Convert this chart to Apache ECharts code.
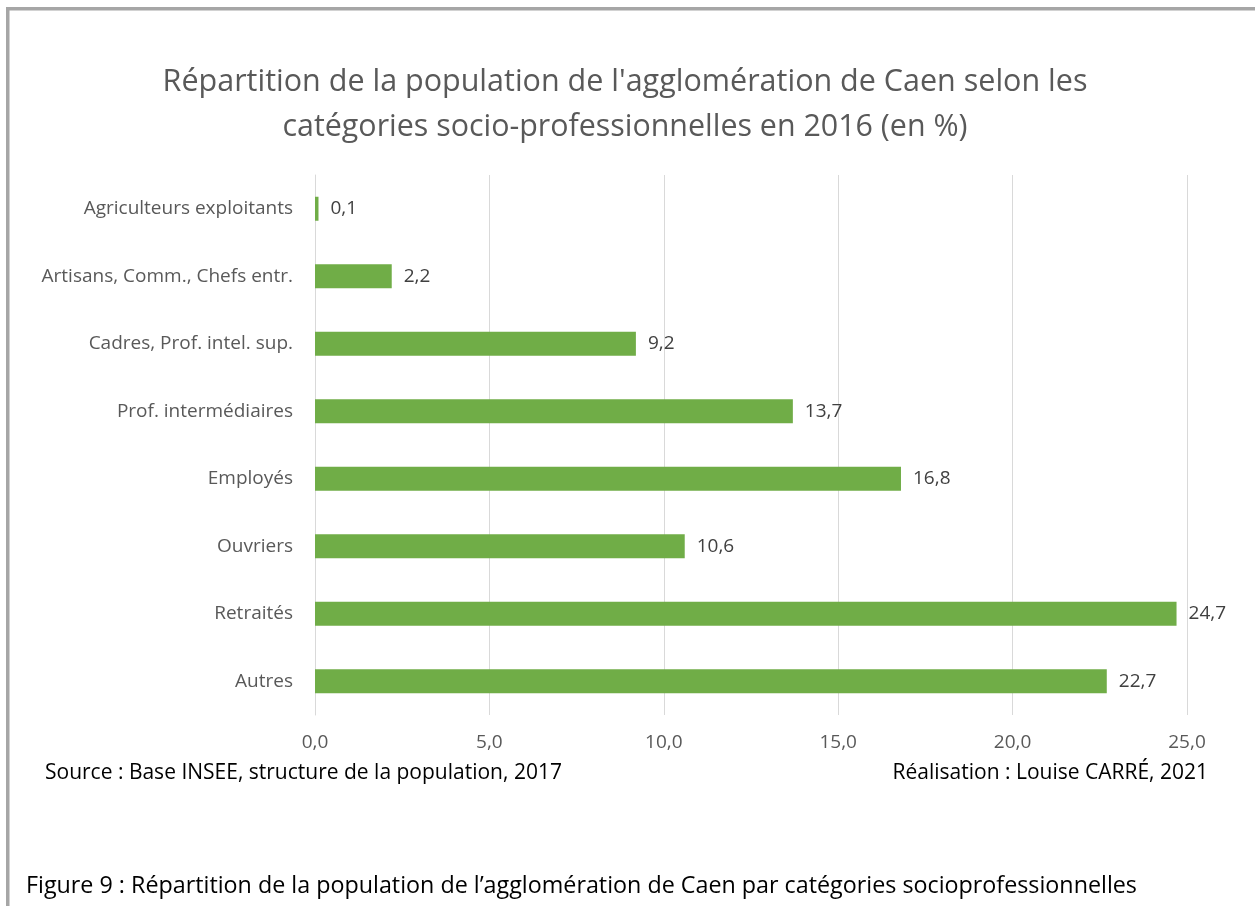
<!DOCTYPE html>
<html>
<head>
<meta charset="utf-8">
<script src="https://cdn.jsdelivr.net/npm/echarts@6/dist/echarts.min.js"></script>
<style>
  html, body { margin: 0; padding: 0; background: #fff; }
  #chart { width: 1255px; height: 906px; }
</style>
</head>
<body>
<div id="chart"></div>
<script>
// données
var categories = ['Agriculteurs exploitants', 'Artisans, Comm., Chefs entr.', 'Cadres, Prof. intel. sup.',
  'Prof. intermédiaires', 'Employés', 'Ouvriers', 'Retraités', 'Autres'];
var values = [0.1, 2.2, 9.2, 13.7, 16.8, 10.6, 24.7, 22.7];
var xTicks = [0, 5, 10, 15, 20, 25];

var titleLines = ["Répartition de la population de l'agglomération de Caen selon les",
  'catégories socio-professionnelles en 2016 (en %)'];
var sourceText = 'Source : Base INSEE, structure de la population, 2017';
var authorText = 'Réalisation : Louise CARRÉ, 2021';
var captionText = 'Figure 9 : Répartition de la population de l\u2019agglomération de Caen par catégories socioprofessionnelles';

var FONT = '"Open Sans", "Noto Sans", sans-serif';

// taille de police pour que le texte occupe la largeur voulue
var ctx = document.createElement('canvas').getContext('2d');
function fit(text, w) {
  ctx.font = '100px ' + FONT;
  return 100 * w / ctx.measureText(text).width;
}
function comma(v) { return v.toFixed(1).replace('.', ','); }

var myChart = echarts.init(document.getElementById('chart'));
var option = {
  backgroundColor: '#fff',
  animation: false,
  textStyle: { fontFamily: FONT },
  grid: { left: 315, top: 175, width: 872, height: 540 },
  xAxis: {
    type: 'value',
    min: xTicks[0],
    max: xTicks[xTicks.length - 1],
    interval: 5,
    axisLine: { show: false },
    axisTick: { show: false },
    splitLine: { lineStyle: { color: '#d9d9d9', width: 1 } },
    axisLabel: { color: '#595959', fontSize: 19, margin: 18, formatter: function (v) { return comma(v); } }
  },
  yAxis: {
    type: 'category',
    inverse: true,
    data: categories,
    axisLine: { show: true, lineStyle: { color: '#d9d9d9' } },
    axisTick: { show: false },
    axisLabel: { color: '#595959', fontSize: 19, margin: 22 }
  },
  series: [{
    type: 'bar',
    data: values,
    barWidth: 24,
    itemStyle: { color: '#70ad47' },
    label: {
      show: true,
      position: 'right',
      distance: 12,
      color: '#404040',
      fontSize: 19,
      formatter: function (p) { return comma(p.value); }
    }
  }],
  graphic: [
    { type: 'rect', shape: { x: 6, y: 7, width: 1249, height: 3.5 }, style: { fill: '#a6a6a6' } },
    { type: 'rect', shape: { x: 6, y: 7, width: 3.5, height: 899 }, style: { fill: '#a6a6a6' } },
    { type: 'text', style: { x: 625, y: 82, text: titleLines[0], textAlign: 'center', textVerticalAlign: 'middle',
        font: fit(titleLines[0], 926).toFixed(1) + 'px ' + FONT, fill: '#595959' } },
    { type: 'text', style: { x: 625, y: 127, text: titleLines[1], textAlign: 'center', textVerticalAlign: 'middle',
        font: fit(titleLines[1], 685).toFixed(1) + 'px ' + FONT, fill: '#595959' } },
    { type: 'text', style: { x: 45, y: 773, text: sourceText, textAlign: 'left', textVerticalAlign: 'middle',
        font: fit(sourceText, 517).toFixed(1) + 'px ' + FONT, fill: '#000' } },
    { type: 'text', style: { x: 1208, y: 773, text: authorText, textAlign: 'right', textVerticalAlign: 'middle',
        font: fit(authorText, 315).toFixed(1) + 'px ' + FONT, fill: '#000' } },
    { type: 'text', style: { x: 26, y: 886, text: captionText, textAlign: 'left', textVerticalAlign: 'middle',
        font: fit(captionText, 1109).toFixed(1) + 'px ' + FONT, fill: '#000' } }
  ]
};
myChart.setOption(option);
</script>
</body>
</html>
